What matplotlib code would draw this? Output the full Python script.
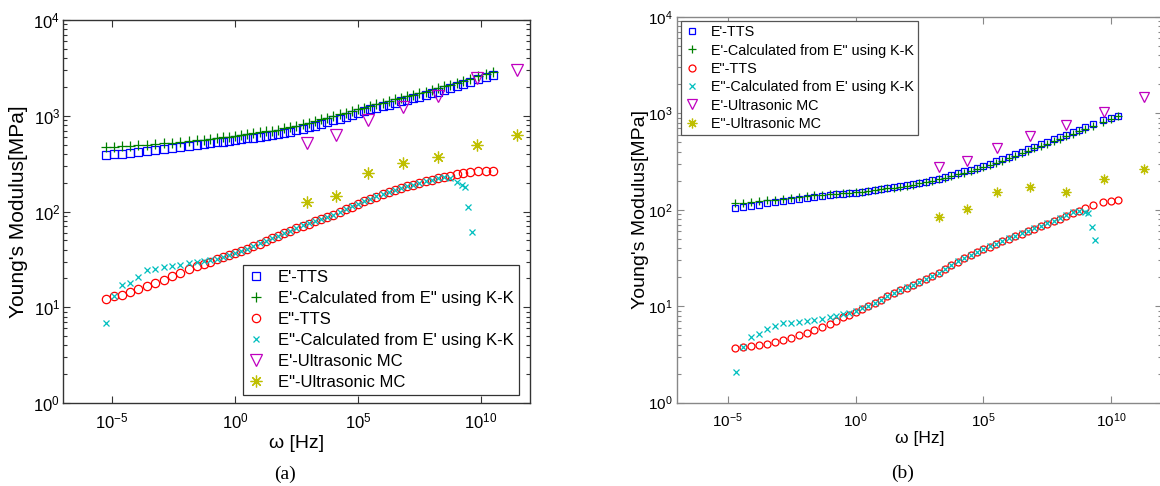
import numpy as np
import matplotlib
matplotlib.use("Agg")
import matplotlib.pyplot as plt
from matplotlib.ticker import LogLocator, NullLocator, LogFormatterMathtext

plt.rcParams['font.family'] = ['Liberation Sans', 'DejaVu Sans']
plt.rcParams['mathtext.fontset'] = 'custom'
plt.rcParams['mathtext.rm'] = 'Liberation Sans'
plt.rcParams['mathtext.it'] = 'Liberation Sans:italic'
plt.rcParams['mathtext.bf'] = 'Liberation Sans:bold'

# ---- panel (a): log10(omega [Hz]) and log10(E [MPa])
a_w = [-5.27, -4.93, -4.59, -4.27, -3.93, -3.59, -3.25, -2.91, -2.57, -2.23, -1.87, -1.53,
       -1.25, -1.0, -0.75, -0.5, -0.25, 0.0, 0.25, 0.5, 0.75, 1.0, 1.25, 1.5, 1.75, 2.0,
       2.25, 2.5, 2.75, 3.0, 3.25, 3.5, 3.75, 4.0, 4.25, 4.5, 4.75, 5.0, 5.25, 5.5, 5.75,
       6.0, 6.25, 6.5, 6.75, 7.0, 7.25, 7.5, 7.75, 8.0, 8.25, 8.5, 8.75,
       9.02, 9.29, 9.56, 9.9, 10.2, 10.49]
a_e1_tts = [2.59, 2.596, 2.603, 2.61, 2.62, 2.63, 2.642, 2.653, 2.663, 2.673, 2.684, 2.695,
            2.704, 2.713, 2.721, 2.73, 2.739, 2.747, 2.755, 2.764, 2.772, 2.781, 2.789, 2.797,
            2.808, 2.82, 2.834, 2.849, 2.865, 2.881, 2.898, 2.915, 2.933, 2.952, 2.971, 2.99,
            3.009, 3.028, 3.047, 3.066, 3.083, 3.10, 3.117, 3.134, 3.15, 3.167, 3.183, 3.20,
            3.217, 3.235, 3.253, 3.271, 3.29,
            3.31, 3.33, 3.355, 3.385, 3.41, 3.43]
a_e1_kk = [2.67, 2.675, 2.68, 2.685, 2.69, 2.695, 2.705, 2.713, 2.72, 2.728, 2.735, 2.742,
           2.75, 2.758, 2.766, 2.775, 2.783, 2.792, 2.80, 2.809, 2.818, 2.827, 2.836, 2.845,
           2.856, 2.868, 2.882, 2.897, 2.913, 2.929, 2.945, 2.961, 2.978, 2.996, 3.014, 3.032,
           3.05, 3.068, 3.086, 3.104, 3.12, 3.137, 3.153, 3.17, 3.186, 3.202, 3.218, 3.235,
           3.252, 3.27, 3.288, 3.306, 3.324,
           3.343, 3.362, 3.386, 3.415, 3.44, 3.46]
a_e2_tts = [1.086, 1.117, 1.128, 1.163, 1.187, 1.222, 1.25, 1.285, 1.326, 1.361, 1.396, 1.431,
            1.455, 1.477, 1.499, 1.521, 1.543, 1.565, 1.587, 1.611, 1.638, 1.665, 1.692, 1.719,
            1.746, 1.773, 1.80, 1.827, 1.852, 1.874, 1.897, 1.92, 1.942, 1.965, 1.994, 2.023,
            2.051, 2.08, 2.109, 2.133, 2.156, 2.178, 2.20, 2.223, 2.245, 2.262, 2.279, 2.297,
            2.314, 2.331, 2.347, 2.361, 2.376,
            2.392, 2.405, 2.416, 2.42, 2.423, 2.423]
a_w_kk = [-5.24, -4.93, -4.59, -4.27, -3.93, -3.59, -3.25, -2.91, -2.57, -2.23, -1.87, -1.53,
          -1.25, -1.0, -0.75, -0.5, -0.25, 0.0, 0.25, 0.5, 0.75, 1.0, 1.25, 1.5, 1.75, 2.0,
          2.25, 2.5, 2.75, 3.0, 3.25, 3.5, 3.75, 4.0, 4.25, 4.5, 4.75, 5.0, 5.25, 5.5, 5.75,
          6.0, 6.25, 6.5, 6.75, 7.0, 7.25, 7.5, 7.75, 8.0, 8.25, 8.5, 8.75,
          9.02, 9.22, 9.36, 9.49, 9.63]
a_e2_kk = [0.832, 1.12, 1.232, 1.257, 1.32, 1.389, 1.396, 1.417, 1.431, 1.441, 1.459, 1.47,
           1.48, 1.49, 1.505, 1.523, 1.545, 1.566, 1.59, 1.613, 1.64, 1.667, 1.69, 1.72,
           1.748, 1.775, 1.80, 1.829, 1.854, 1.876, 1.9, 1.921, 1.945, 1.967, 1.996, 2.025,
           2.053, 2.082, 2.11, 2.135, 2.158, 2.18, 2.202, 2.225, 2.247, 2.264, 2.281, 2.298,
           2.316, 2.333, 2.348, 2.36, 2.35,
           2.311, 2.277, 2.253, 2.044, 1.783]
a_w_us = [2.92, 4.12, 5.41, 6.82, 8.27, 9.85, 11.49]
a_e1_us = [2.719, 2.799, 2.956, 3.088, 3.206, 3.391, 3.478]
a_e2_us = [2.102, 2.162, 2.405, 2.51, 2.566, 2.695, 2.799]

# ---- panel (b)
b_w = [-4.71, -4.4, -4.09, -3.78, -3.47, -3.16, -2.85, -2.54, -2.23, -1.92, -1.61, -1.3,
       -1.0, -0.75, -0.5, -0.25, 0.0, 0.25, 0.5, 0.75, 1.0, 1.25, 1.5, 1.75, 2.0, 2.25,
       2.5, 2.75, 3.0, 3.25, 3.5, 3.75, 4.0, 4.25, 4.5, 4.75, 5.0, 5.25, 5.5, 5.75, 6.0,
       6.25, 6.5, 6.75, 7.0, 7.25, 7.5, 7.75, 8.0, 8.25, 8.5, 8.75,
       9.0, 9.3, 9.68, 10.0, 10.28]
b_e1_tts = [2.017, 2.03, 2.044, 2.055, 2.066, 2.077, 2.088, 2.10, 2.113, 2.125, 2.137, 2.146,
            2.154, 2.16, 2.166, 2.172, 2.178, 2.186, 2.195, 2.204, 2.213, 2.222, 2.232, 2.243,
            2.254, 2.266, 2.279, 2.293, 2.308, 2.324, 2.341, 2.359, 2.378, 2.398, 2.418, 2.438,
            2.459, 2.48, 2.503, 2.527, 2.552, 2.577, 2.603, 2.63, 2.657, 2.683, 2.708, 2.732,
            2.756, 2.78, 2.805, 2.83,
            2.856, 2.888, 2.928, 2.955, 2.974]
b_e1_kk = [2.068, 2.075, 2.083, 2.09, 2.098, 2.105, 2.113, 2.122, 2.13, 2.14, 2.15, 2.157,
           2.164, 2.168, 2.172, 2.177, 2.182, 2.189, 2.197, 2.205, 2.213, 2.222, 2.231, 2.241,
           2.251, 2.262, 2.274, 2.287, 2.301, 2.316, 2.332, 2.349, 2.367, 2.386, 2.405, 2.425,
           2.445, 2.466, 2.488, 2.511, 2.535, 2.56, 2.585, 2.611, 2.637, 2.663, 2.688, 2.713,
           2.738, 2.763, 2.788, 2.813,
           2.838, 2.87, 2.91, 2.945, 2.972]
b_e2_tts = [0.564, 0.575, 0.586, 0.596, 0.611, 0.63, 0.652, 0.674, 0.697, 0.722, 0.752, 0.787,
            0.82, 0.852, 0.884, 0.912, 0.944, 0.975, 1.005, 1.036, 1.068, 1.102, 1.135, 1.165,
            1.192, 1.219, 1.25, 1.283, 1.315, 1.348, 1.385, 1.424, 1.462, 1.50, 1.532, 1.562,
            1.59, 1.617, 1.645, 1.672, 1.70, 1.727, 1.753, 1.78, 1.806, 1.832, 1.858, 1.882,
            1.908, 1.935, 1.965, 1.992,
            2.02, 2.052, 2.085, 2.092, 2.103]
b_w_kk = [-4.68, -4.4, -4.09, -3.78, -3.47, -3.16, -2.85, -2.54, -2.23, -1.92, -1.61, -1.3,
          -1.0, -0.75, -0.5, -0.25, 0.0, 0.25, 0.5, 0.75, 1.0, 1.25, 1.5, 1.75, 2.0, 2.25,
          2.5, 2.75, 3.0, 3.25, 3.5, 3.75, 4.0, 4.25, 4.5, 4.75, 5.0, 5.25, 5.5, 5.75, 6.0,
          6.25, 6.5, 6.75, 7.0, 7.25, 7.5, 7.75, 8.0, 8.25, 8.5, 8.75,
          9.0, 9.1, 9.27, 9.36]
b_e2_kk = [0.322, 0.581, 0.678, 0.713, 0.761, 0.796, 0.83, 0.83, 0.84, 0.851, 0.858, 0.87,
           0.885, 0.9, 0.918, 0.93, 0.948, 0.977, 1.008, 1.038, 1.07, 1.104, 1.137, 1.167,
           1.195, 1.222, 1.252, 1.285, 1.318, 1.35, 1.388, 1.426, 1.465, 1.502, 1.535, 1.565,
           1.593, 1.62, 1.648, 1.675, 1.703, 1.73, 1.756, 1.783, 1.81, 1.836, 1.862, 1.888,
           1.915, 1.945, 1.975, 1.99,
           1.98, 1.965, 1.826, 1.688]
b_w_us = [3.25, 4.35, 5.55, 6.82, 8.22, 9.71, 11.31]
b_e1_us = [2.448, 2.51, 2.639, 2.767, 2.878, 3.012, 3.168]
b_e2_us = [1.923, 2.009, 2.183, 2.234, 2.183, 2.32, 2.424]

labels = ["E'-TTS", "E'-Calculated from E\" using K-K", "E\"-TTS",
          "E\"-Calculated from E' using K-K", "E'-Ultrasonic MC", "E\"-Ultrasonic MC"]
colors = ['#0000ff', '#008000', '#ff0000', '#00bfbf', '#bf00bf', '#bfbf00']
markers = ['s', '+', 'o', 'x', 'v', (8, 2, 0)]


def p(v):
    return 10 ** np.asarray(v)


def panel(ax, series, msize, spine_col, tick_fs, ypad):
    for i, (w, e) in enumerate(series):
        ax.plot(p(w), p(e), linestyle='none', marker=markers[i], ms=msize[i],
                mfc='none', mec=colors[i], mew=0.9, label=labels[i])
    ax.set_xscale('log')
    ax.set_yscale('log')
    ax.set_xlim(1e-7, 1e12)
    ax.set_ylim(1, 1e4)
    ax.set_xticks([1e-5, 1, 1e5, 1e10])
    ax.xaxis.set_minor_locator(NullLocator())
    ax.xaxis.set_major_formatter(LogFormatterMathtext())
    ax.yaxis.set_major_locator(LogLocator(base=10, numticks=10))
    ax.yaxis.set_minor_locator(LogLocator(base=10, subs=np.arange(2, 10), numticks=10))
    ax.tick_params(which='both', direction='in', top=True, right=True,
                   colors=spine_col, labelcolor='black', labelsize=tick_fs, width=0.8)
    ax.tick_params(which='major', length=5)
    ax.tick_params(which='minor', length=3)
    ax.tick_params(axis='x', which='major', pad=6)
    ax.tick_params(axis='y', which='major', pad=ypad)
    for s in ax.spines.values():
        s.set_color(spine_col)
        s.set_linewidth(1.0)


fig = plt.figure(figsize=(11.6, 4.86), dpi=100)

# (a)
ax1 = fig.add_axes([0.0543, 0.1708, 0.4026, 0.788])
panel(ax1, [(a_w, a_e1_tts), (a_w, a_e1_kk), (a_w, a_e2_tts), (a_w_kk, a_e2_kk),
            (a_w_us, a_e1_us), (a_w_us, a_e2_us)],
      [5.5, 6.5, 6.0, 5.0, 8.0, 8.5], '#333333', 12, 2)
ax1.set_ylabel("Young's Modulus[MPa]", fontsize=15, labelpad=4)
ax1.set_xlabel("ω [Hz]", fontsize=14, labelpad=3)
leg1 = ax1.legend(loc='lower right', bbox_to_anchor=(0.976, 0.021), borderaxespad=0,
                  fontsize=12, fancybox=False, framealpha=1, edgecolor='#333333',
                  handlelength=1.0, handletextpad=0.8, labelspacing=0.36, borderpad=0.3)
leg1.get_frame().set_linewidth(0.9)

# (b)
ax2 = fig.add_axes([0.5834, 0.1714, 0.4184, 0.7936])
panel(ax2, [(b_w, b_e1_tts), (b_w, b_e1_kk), (b_w, b_e2_tts), (b_w_kk, b_e2_kk),
            (b_w_us, b_e1_us), (b_w_us, b_e2_us)],
      [5.0, 5.5, 5.0, 4.5, 7.0, 7.0], '#888888', 11, 3)
ax2.set_ylabel("Young's Modulus[MPa]", fontsize=14, labelpad=-1)
ax2.set_xlabel("ω [Hz]", fontsize=12.5, labelpad=1)
leg2 = ax2.legend(loc='upper left', bbox_to_anchor=(0.008, 0.99), borderaxespad=0,
                  fontsize=10.4, fancybox=False, framealpha=1, edgecolor='#555555',
                  handlelength=1.0, handletextpad=0.8, labelspacing=0.3, borderpad=0.3)
leg2.get_frame().set_linewidth(0.9)

fig.text(285 / 1160, 1 - 474 / 486, "(a)", fontsize=14, family='Liberation Serif',
         ha='center', va='center')
fig.text(903 / 1160, 1 - 473 / 486, "(b)", fontsize=14, family='Liberation Serif',
         ha='center', va='center')

fig.savefig("out.png", dpi=100)
